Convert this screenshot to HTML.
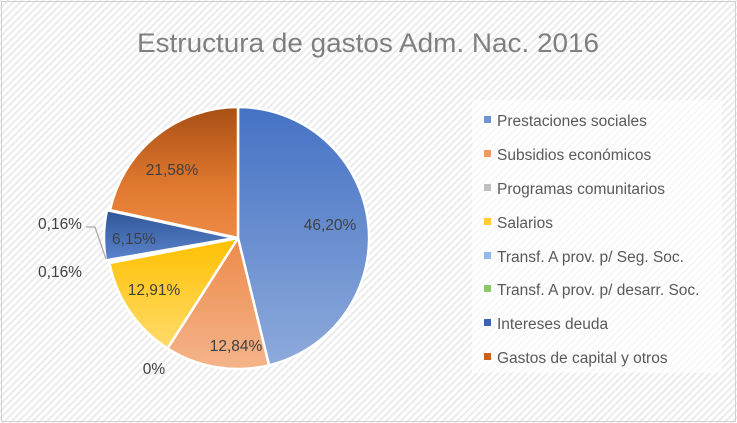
<!DOCTYPE html>
<html><head><meta charset="utf-8"><style>
html,body{margin:0;padding:0;background:#fff}
svg{display:block;font-family:"Liberation Sans",sans-serif}
</style></head><body>
<svg width="737" height="423" viewBox="0 0 737 423" xmlns="http://www.w3.org/2000/svg">
<defs>
<pattern id="h" width="5" height="5" patternUnits="userSpaceOnUse" patternTransform="rotate(45)">
<rect width="5" height="5" fill="#fff"/><rect width="2" height="5" fill="#ebebeb"/></pattern>
<linearGradient id="gb" x1="0" y1="0" x2="0" y2="1"><stop offset="0" stop-color="#4472c4"/><stop offset="1" stop-color="#8eaadb"/></linearGradient>
<linearGradient id="go" x1="0" y1="0" x2="0" y2="1"><stop offset="0" stop-color="#ed8a4a"/><stop offset="1" stop-color="#f4b48a"/></linearGradient>
<linearGradient id="gy" x1="0" y1="0" x2="0" y2="1"><stop offset="0" stop-color="#ffc000"/><stop offset="1" stop-color="#ffdb6b"/></linearGradient>
<linearGradient id="gd" x1="0" y1="0" x2="0" y2="1"><stop offset="0" stop-color="#2f5597"/><stop offset="1" stop-color="#5a84cc"/></linearGradient>
<linearGradient id="gr" x1="0" y1="0" x2="0" y2="1"><stop offset="0" stop-color="#a84f14"/><stop offset="0.6" stop-color="#e0782f"/><stop offset="1" stop-color="#ee8a45"/></linearGradient>
</defs>
<rect x="0" y="0" width="737" height="423" fill="url(#h)"/>
<rect x="1.5" y="1.5" width="734" height="420" fill="none" stroke="#d0d0d0"/>
<text x="368" y="52" font-size="27" fill="#7f7f7f" text-anchor="middle" textLength="462" lengthAdjust="spacingAndGlyphs">Estructura de gastos Adm. Nac. 2016</text>
<g stroke="#fff" stroke-width="2.5" stroke-linejoin="round">
<path d="M238,238 L238,107 A131,131 0 0 1 269,365.3 Z" fill="url(#gb)"/>
<path d="M238,238 L269,365.3 A131,131 0 0 1 167.5,348.4 Z" fill="url(#go)"/>
<path d="M238,238 L167.5,348.4 A131,131 0 0 1 109.4,263 Z" fill="url(#gy)"/>
<path d="M238,238 L109.4,263 A131,131 0 0 1 108.9,260.4 Z" fill="#9dc3e6"/>
<path d="M235,238 L105.9,260.4 A131,131 0 0 1 107,210.1 Z" fill="url(#gd)"/>
<path d="M238,238 L110,210.1 A131,131 0 0 1 238,107 Z" fill="url(#gr)"/>
</g>
<polyline points="86,227 95,227 106,259" fill="none" stroke="#a6a6a6" stroke-width="1.2"/>
<g font-size="15.5" fill="#404040" text-anchor="middle">
<text x="330" y="230">46,20%</text>
<text x="236" y="351">12,84%</text>
<text x="154" y="295">12,91%</text>
<text x="134" y="244">6,15%</text>
<text x="172" y="175">21,58%</text>
<text x="60" y="229">0,16%</text>
<text x="60" y="277">0,16%</text>
<text x="154" y="374">0%</text>
</g>
<rect x="472" y="100" width="250" height="273" fill="#fff" opacity="0.6"/>
<g font-size="15.5" fill="#595959">
<rect x="484" y="116" width="7" height="7" fill="#6f93d3"/><text x="497" y="126">Prestaciones sociales</text>
<rect x="484" y="150" width="7" height="7" fill="#f09a62"/><text x="497" y="160">Subsidios económicos</text>
<rect x="484" y="184" width="7" height="7" fill="#bfbfbf"/><text x="497" y="194">Programas comunitarios</text>
<rect x="484" y="218" width="7" height="7" fill="#ffcc33"/><text x="497" y="228">Salarios</text>
<rect x="484" y="252" width="7" height="7" fill="#8fbbe6"/><text x="497" y="262">Transf. A prov. p/ Seg. Soc.</text>
<rect x="484" y="285" width="7" height="7" fill="#8fc66a"/><text x="497" y="295">Transf. A prov. p/ desarr. Soc.</text>
<rect x="484" y="319" width="7" height="7" fill="#3a64b0"/><text x="497" y="329">Intereses deuda</text>
<rect x="484" y="353" width="7" height="7" fill="#c8621e"/><text x="497" y="363">Gastos de capital y otros</text>
</g>
</svg>
</body></html>
